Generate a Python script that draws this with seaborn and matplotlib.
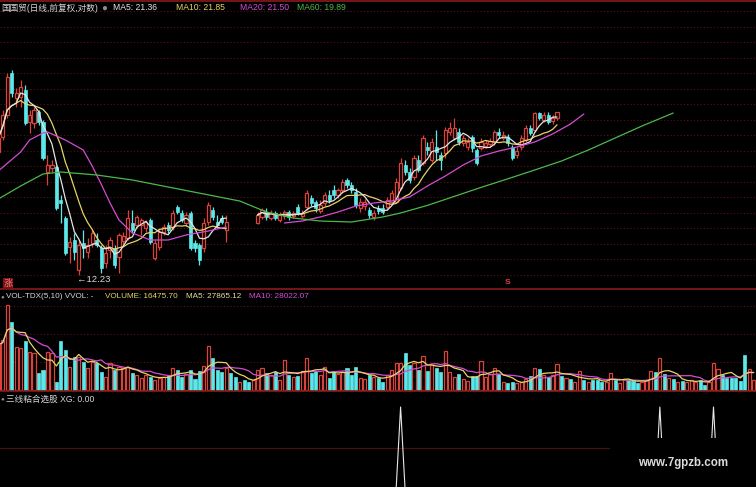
import numpy as np
import pandas as pd
import matplotlib
matplotlib.use("Agg")
import matplotlib.pyplot as plt
import seaborn as sns

# ---------------- data ----------------
N_BARS = 170

# first stretch of daily bars (bars 0..51)
seg1_start = 0
seg1_open = [18.40, 19.15, 20.25, 22.35, 21.10, 21.15, 21.50, 19.90, 19.85, 20.40,
             19.90, 17.40, 17.60, 17.65, 16.00, 15.10, 13.65, 14.00, 12.50, 13.85,
             13.40, 13.85, 14.00, 13.60, 12.85, 13.50, 13.60, 13.15, 13.95, 14.10,
             14.85, 14.75, 14.75, 14.60, 15.00, 13.10, 13.65, 14.40, 14.75, 14.65,
             15.65, 15.35, 14.85, 15.35, 13.85, 13.75, 13.60, 14.90, 15.50, 14.90,
             15.10, 14.50]
seg1_close = [19.10, 20.25, 22.15, 21.35, 21.35, 21.65, 19.85, 20.25, 20.50, 19.90,
              18.10, 17.75, 17.75, 15.60, 15.85, 13.35, 13.90, 13.40, 13.75, 13.60,
              13.75, 14.35, 13.75, 12.60, 13.35, 14.00, 12.75, 14.25, 14.20, 15.10,
              14.50, 15.15, 15.00, 14.90, 13.90, 13.85, 14.40, 14.65, 14.50, 15.35,
              15.40, 15.00, 15.25, 13.60, 13.60, 13.00, 14.85, 15.75, 15.15, 14.75,
              14.90, 14.90]
seg1_high = [19.35, 20.50, 22.35, 22.50, 21.60, 22.00, 21.75, 20.50, 20.65, 20.50,
             20.00, 18.25, 18.00, 17.75, 16.25, 15.20, 14.15, 14.35, 14.00, 14.50,
             14.10, 14.50, 14.35, 13.75, 13.75, 14.15, 13.75, 14.35, 14.40, 15.50,
             15.50, 15.25, 15.10, 15.00, 15.10, 14.00, 14.60, 14.80, 14.90, 15.50,
             15.75, 15.50, 15.40, 15.45, 14.00, 13.85, 15.10, 15.90, 15.65, 15.25,
             15.25, 15.25]
seg1_low = [18.25, 19.00, 20.10, 21.15, 20.65, 20.65, 19.75, 19.35, 19.60, 19.75,
            18.00, 16.75, 17.40, 15.50, 14.85, 13.25, 12.85, 13.00, 12.23, 13.10,
            13.10, 13.65, 13.65, 12.35, 12.60, 13.10, 12.60, 12.35, 13.75, 14.00,
            14.35, 14.60, 14.25, 14.40, 13.80, 13.00, 13.50, 14.25, 14.35, 14.50,
            15.30, 14.90, 14.70, 13.50, 13.40, 12.75, 13.40, 14.75, 15.00, 14.60,
            14.80, 13.90]

# second stretch of daily bars (bars 58..125)
seg2_start = 58
seg2_open = [14.85, 15.15, 15.40, 15.10, 15.35, 15.00, 15.20, 15.40, 15.20, 15.65,
             15.20, 15.65, 16.10, 15.90, 15.45, 15.85, 16.25, 16.50, 16.25, 16.50,
             17.00, 16.75, 16.40, 15.60, 15.70, 15.50, 15.15, 15.60, 15.60, 15.65,
             15.90, 15.90, 16.60, 17.75, 17.40, 17.15, 18.00, 17.85, 18.65, 18.00,
             18.65, 18.25, 18.35, 19.40, 19.10, 19.40, 18.85, 18.65, 19.15, 18.50,
             18.60, 18.70, 18.80, 18.90, 19.40, 19.10, 19.15, 18.65, 18.25, 18.65,
             19.00, 19.60, 19.50, 20.35, 20.00, 20.25, 19.95, 20.10]
seg2_close = [15.25, 15.50, 15.15, 15.35, 15.10, 15.25, 15.40, 15.15, 15.35, 15.35,
              15.35, 16.35, 15.85, 15.60, 15.75, 16.25, 16.00, 16.25, 16.50, 16.90,
              16.75, 16.50, 15.75, 15.90, 15.90, 15.25, 15.35, 15.45, 15.40, 16.00,
              16.35, 16.90, 17.85, 17.40, 17.00, 18.10, 17.50, 19.10, 18.50, 18.90,
              18.40, 18.00, 19.50, 19.60, 19.60, 18.90, 19.10, 18.90, 18.60, 17.85,
              18.90, 18.85, 18.95, 19.40, 19.25, 19.25, 18.85, 18.10, 18.45, 19.10,
              19.60, 19.35, 20.35, 20.10, 20.25, 19.90, 20.10, 20.40]
seg2_high = [15.40, 15.60, 15.60, 15.50, 15.45, 15.40, 15.50, 15.50, 15.45, 15.80,
             15.50, 16.50, 16.25, 16.00, 16.00, 16.40, 16.50, 16.75, 16.60, 17.05,
             17.10, 16.90, 16.60, 16.10, 16.05, 15.65, 15.50, 15.75, 15.80, 16.15,
             16.50, 17.10, 18.10, 18.00, 17.60, 18.25, 18.25, 19.25, 18.90, 19.10,
             19.50, 18.40, 19.65, 19.90, 20.10, 19.60, 19.25, 19.10, 19.25, 18.60,
             19.10, 19.00, 19.10, 19.50, 19.60, 19.45, 19.30, 18.75, 18.65, 19.25,
             19.75, 19.75, 20.40, 20.40, 20.40, 20.40, 20.25, 20.40]
seg2_low = [14.80, 15.05, 15.00, 15.00, 15.00, 14.90, 15.05, 15.00, 15.10, 15.25,
            15.10, 15.50, 15.70, 15.40, 15.35, 15.70, 15.85, 16.10, 16.10, 16.35,
            16.60, 16.35, 15.60, 15.40, 15.50, 15.10, 15.00, 15.30, 15.30, 15.50,
            15.75, 15.85, 16.50, 17.25, 16.85, 17.00, 17.40, 17.75, 18.25, 17.90,
            18.00, 17.50, 18.10, 19.25, 19.00, 18.75, 18.70, 18.50, 18.40, 17.75,
            18.50, 18.60, 18.65, 18.75, 19.10, 19.00, 18.70, 18.00, 18.10, 18.50,
            18.90, 19.25, 19.40, 20.00, 19.90, 19.80, 19.80, 20.00]

# 20-day and 60-day averages (bar index, price)
ma20_seg1_idx = [0, 5, 7, 10, 11, 15, 19, 21, 23, 25, 27, 30, 34, 38, 42, 47, 51]
ma20_seg1_val = [17.45, 18.40, 19.00, 19.35, 19.40, 19.00, 18.50, 17.70, 16.80,
                 15.85, 15.00, 14.35, 14.00, 14.00, 14.25, 14.45, 14.65]
ma20_seg2_idx = [64, 68, 72, 76, 80, 84, 88, 92, 96, 100, 104, 108, 112, 116, 120,
                 124, 128, 131]
ma20_seg2_val = [14.85, 14.95, 15.15, 15.40, 15.70, 15.85, 15.95, 16.15, 16.70,
                 17.20, 17.75, 18.20, 18.45, 18.65, 18.90, 19.30, 19.80, 20.30]
ma60_idx = [0, 5, 10, 14, 22, 30, 38, 46, 54, 60, 66, 72, 79, 86, 90, 96, 102, 108,
            114, 120, 126, 132, 138, 144, 151]
ma60_val = [16.05, 16.70, 17.30, 17.40, 17.25, 17.00, 16.65, 16.30, 15.95, 15.40,
            15.10, 14.95, 14.90, 15.15, 15.35, 15.73, 16.18, 16.63, 17.06, 17.50,
            17.95, 18.50, 19.10, 19.70, 20.35]

# volume of every bar
volume = [72000, 80000, 136000, 108800, 68800, 67200, 78400, 60800, 59200, 27200,
          32000, 60800, 59200, 12800, 78400, 64000, 36800, 52800, 52800, 44800,
          35200, 44800, 43200, 28800, 20800, 43200, 32000, 36800, 35200, 36800,
          27200, 24000, 19200, 24000, 20800, 16000, 19200, 20800, 24000, 35200,
          32000, 20800, 25600, 32000, 17600, 30400, 38400, 70400, 51200, 32000,
          28800, 35200, 27200, 20800, 12800, 16000, 12800, 16000, 32000, 35200,
          27200, 24000, 28800, 16000, 48000, 24000, 20800, 22400, 30400, 51200,
          27200, 30400, 24000, 36800, 19200, 30400, 25600, 28800, 35200, 24000,
          36800, 19200, 17600, 24000, 20800, 19200, 12800, 24000, 32000, 43200,
          43200, 59200, 40000, 43200, 32000, 54400, 30400, 40000, 35200, 28800,
          62400, 28800, 20800, 25600, 17600, 14400, 22400, 22400, 46400, 20800,
          25600, 35200, 25600, 12800, 11200, 12800, 11200, 12800, 17600, 22400,
          35200, 33600, 24000, 20800, 24000, 41600, 22400, 19200, 17600, 12800,
          30400, 16000, 12800, 16000, 16000, 12800, 12800, 27200, 16000, 11200,
          17600, 16000, 14400, 11200, 12800, 16000, 30400, 28800, 51200, 25600,
          19200, 17600, 12800, 14400, 12800, 16000, 12800, 16000, 8000, 12800,
          44000, 34000, 24000, 19000, 19894, 19000, 14000, 55850, 34000, 16475.70]
# up/down flag of volume bars that have no price bar shown (u = up, d = down)
gap_dir = "ddudduu"[:6]          # bars 52..57
tail_dir = "duduududdd" "uuduuddduu" "ududududuu" "udduuudddd" "dduu"  # bars 126..169

# stock-picking signal XG
xg_days = [90, 148, 160]

low_label = "12.23"
low_bar = 18
s_bar = 114

# ---------------- styling ----------------
W, H = 756, 487
RED = "#d8433c"
CYAN = "#5ce8ea"
C_MA5 = "#e4e4e4"
C_MA10 = "#e6d468"
C_MA20 = "#d44cd4"
C_MA60 = "#4cb84c"
GRID = "#5e1010"
SEP = "#8a1a1a"

sns.set_theme(style="dark", rc={"axes.facecolor": "black",
                                "figure.facecolor": "black",
                                "axes.grid": False})
plt.rcParams["font.family"] = ["Liberation Sans", "Noto Sans CJK SC", "DejaVu Sans"]

fig = plt.figure(figsize=(W / 100, H / 100), dpi=100, facecolor="black")


def px_axes(top, bottom):
    a = fig.add_axes([0, 1 - bottom / H, 1, (bottom - top) / H])
    a.set_facecolor("black")
    for sp in a.spines.values():
        sp.set_visible(False)
    a.set_xticks([])
    a.set_yticks([])
    a.set_xlim(0.38, 169.51)
    return a


ax = px_axes(2, 289)
axv = px_axes(289, 391)
axx = px_axes(391, 487)
ax.set_ylim(11.55, 25.9)
axv.set_ylim(-1600, 161600)
axx.set_ylim(0.024, 1.195)

# ---------------- price panel ----------------
idx = np.arange(N_BARS)
o = np.full(N_BARS, np.nan)
c = np.full(N_BARS, np.nan)
hi = np.full(N_BARS, np.nan)
lo = np.full(N_BARS, np.nan)
for start, so, sc, sh, sl in [(seg1_start, seg1_open, seg1_close, seg1_high, seg1_low),
                              (seg2_start, seg2_open, seg2_close, seg2_high, seg2_low)]:
    n = len(so)
    o[start:start + n] = so
    c[start:start + n] = sc
    hi[start:start + n] = sh
    lo[start:start + n] = sl

has = ~np.isnan(o)
up = has & (c >= o)
dn = has & (c < o)
btop = np.fmax(o, c)
bbot = np.fmin(o, c)
bh = np.maximum(btop - bbot, 0.03)

for y in np.arange(12.25, 25.6, 0.775):
    ax.axhline(y, color=GRID, lw=0.8, ls=(0, (1, 2)), zorder=0)

BW = 0.70
ax.vlines(idx[up], btop[up], hi[up], color=RED, lw=0.9, zorder=2)
ax.vlines(idx[up], lo[up], bbot[up], color=RED, lw=0.9, zorder=2)
ax.bar(idx[up], bh[up], bottom=bbot[up], width=BW, facecolor="black",
       edgecolor=RED, linewidth=0.9, zorder=3)
ax.vlines(idx[dn], lo[dn], hi[dn], color=CYAN, lw=0.9, zorder=2)
ax.bar(idx[dn], bh[dn], bottom=bbot[dn], width=BW, facecolor=CYAN,
       edgecolor=CYAN, linewidth=0.5, zorder=3)

close_s = pd.Series(c)
for start, n in [(seg1_start, len(seg1_close)), (seg2_start, len(seg2_close))]:
    part = close_s.iloc[start:start + n]
    for w, col in [(10, C_MA10), (5, C_MA5)]:
        ma = part.rolling(w, min_periods=1).mean()
        sns.lineplot(x=ma.index.to_numpy(), y=ma.to_numpy(), ax=ax, color=col,
                     linewidth=0.9, estimator=None, sort=False, zorder=4)
for xi, yv in [(ma20_seg1_idx, ma20_seg1_val), (ma20_seg2_idx, ma20_seg2_val)]:
    sns.lineplot(x=xi, y=yv, ax=ax, color=C_MA20, linewidth=0.9,
                 estimator=None, sort=False, zorder=4)
sns.lineplot(x=ma60_idx, y=ma60_val, ax=ax, color=C_MA60, linewidth=0.9,
             estimator=None, sort=False, zorder=4)

ax.annotate("\u2190" + low_label, xy=(low_bar, float(low_label)), xytext=(-1, -3),
            textcoords="offset points", ha="left", va="center", fontsize=6.8,
            color="#d8d8d8", zorder=6)
ax.text(s_bar, 11.85, "S", color=RED, fontsize=6, ha="center", va="center",
        fontweight="bold", zorder=6)

# ---------------- volume panel ----------------
vol = np.asarray(volume, dtype=float)
vol_up = np.zeros(N_BARS, dtype=bool)
vol_up[has] = up[has]
for k, ch in enumerate(gap_dir):
    vol_up[52 + k] = ch == "u"
for k, ch in enumerate(tail_dir):
    vol_up[126 + k] = ch == "u"

for y in [44800, 89600, 134400]:
    axv.axhline(y, color=GRID, lw=0.8, ls=(0, (1, 2)), zorder=0)
axv.bar(idx[vol_up], vol[vol_up], width=BW, facecolor="black", edgecolor=RED,
        linewidth=0.9, zorder=2)
axv.bar(idx[~vol_up], vol[~vol_up], width=BW, facecolor=CYAN, edgecolor=CYAN,
        linewidth=0.5, zorder=2)
vs = pd.Series(vol)
sns.lineplot(x=idx, y=vs.rolling(10, min_periods=1).mean().to_numpy(), ax=axv,
             color=C_MA20, linewidth=0.9, estimator=None, sort=False, zorder=3)
sns.lineplot(x=idx, y=vs.rolling(5, min_periods=1).mean().to_numpy(), ax=axv,
             color=C_MA10, linewidth=0.9, estimator=None, sort=False, zorder=3)

# ---------------- XG panel ----------------
xg = np.zeros(N_BARS)
xg[xg_days] = 1.0
axx.axhline(0.5, color="#4a0e0e", lw=0.9, zorder=0)
sns.lineplot(x=idx, y=xg, ax=axx, color="#e8e8e8", linewidth=0.8,
             estimator=None, sort=False, zorder=2)

# ---------------- frame lines ----------------
for y in (1.0, 289.0, 391.0):
    fig.add_artist(plt.Line2D([0, 1], [1 - y / H, 1 - y / H], color=SEP, lw=1.2))

# ---------------- texts ----------------
FS = 6.2


def ftxt(x, y, s, color, size=FS, **kw):
    fig.text(x / W, 1 - y / H, s, color=color, fontsize=size, ha="left",
             va="center", **kw)


ftxt(1, 8, "国国贸(日线,前复权,对数)", "#d6d6d6")
ftxt(101, 8, "\u25cf", "#8c8c8c", size=7)
ftxt(113, 8, "MA5: 21.36", C_MA5)
ftxt(176, 8, "MA10: 21.85", C_MA10)
ftxt(240, 8, "MA20: 21.50", C_MA20)
ftxt(297, 8, "MA60: 19.89", C_MA60)

ftxt(0, 297, "\u25cf", "#8c8c8c", size=4.5)
ftxt(6, 297, "VOL-TDX(5,10) VVOL: -", "#d6d6d6", size=5.9)
ftxt(105, 297, "VOLUME: 16475.70", C_MA10, size=5.9)
ftxt(186, 297, "MA5: 27865.12", "#e6dca0", size=5.9)
ftxt(249, 297, "MA10: 28022.07", C_MA20, size=5.9)

ftxt(0, 399, "\u25cf", "#8c8c8c", size=4.5)
ftxt(6, 399, "三线粘合选股 XG: 0.00", "#d6d6d6")

fig.text(8 / W, 1 - 283 / H, "涨", color="#f08080", fontsize=6.5, ha="center",
         va="center", bbox=dict(boxstyle="square,pad=0.1", fc="#7a1010", ec="none"))

# site mark in the lower right corner, on its own black patch
fig.add_artist(plt.Rectangle((610 / W, 0), 1 - 610 / W, (H - 438) / H,
                             transform=fig.transFigure, facecolor="black",
                             edgecolor="none", zorder=10))
fig.text(683 / W, 1 - 463 / H, "www.7gpzb.com", color="#dcdcdc", fontsize=8.3,
         fontweight="bold", ha="center", va="center", zorder=11)

fig.savefig("out.png", dpi=100, facecolor="black")
